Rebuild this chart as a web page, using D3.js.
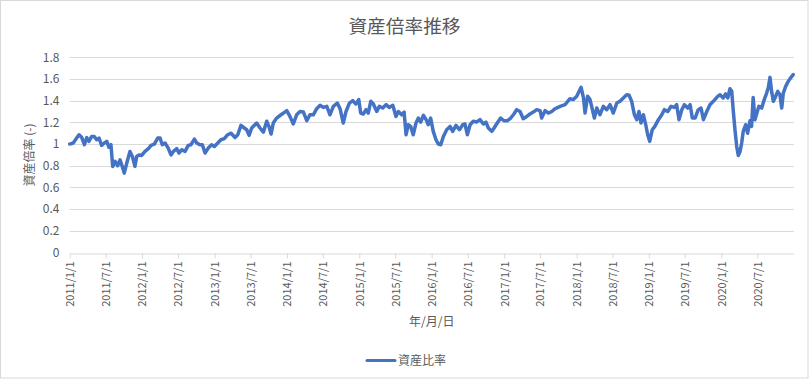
<!DOCTYPE html>
<html>
<head>
<meta charset="utf-8">
<script src="https://cdn.jsdelivr.net/npm/d3@7"></script>
<style>
  html, body { margin: 0; padding: 0; background: #fff; }
  svg { display: block; }
  text { font-family: "Noto Sans CJK JP", "Noto Sans", sans-serif; fill: #595959; }
</style>
</head>
<body>
<svg id="chart" width="809" height="380"></svg>
<script>
const title = "資産倍率推移";
const xTitle = "年/月/日";
const yTitle = "資産倍率 (-)";
const seriesName = "資産比率";
const startDate = "2011-01-01";

// days since 2011-01-01
const dayOffsets = [
0,18,35,47,61,74,86,97,111,124,
136,148,161,175,187,198,208,217,229,242,
254,265,275,288,304,316,329,338,350,363,
380,397,410,427,444,456,467,481,497,511,
523,540,551,565,582,598,612,629,641,657,
669,683,699,716,730,747,763,780,797,814,
834,848,864,881,893,905,918,943,960,977,
994,1005,1016,1027,1044,1066,1078,1095,1111,1128,
1145,1162,1179,1196,1212,
1229,1246,1263,1279,1297,1313,1330,1350,1364,1380,
1394,1411,1428,1444,1458,1468,1481,1495,1506,1519,
1532,1549,1562,1579,1596,1612,1630,1646,1658,1675,
1687,1697,1708,1720,1733,1747,1759,1771,1784,1798,
1809,1821,1834,1848,1860,1872,1885,1902,1919,1932,
1949,1966,1983,1994,2006,2020,2036,2053,2070,2087,
2100,2112,2129,2141,2157,2174,2191,2208,2225,2241,
2255,2272,2288,2306,2322,2339,2356,2373,2381,2398,
2415,2432,2449,
2474,2499,2524,2541,2558,2570,2580,2592,2600,2613,
2625,2637,2647,2659,2675,2692,2709,2726,2742,2760,
2776,2793,2810,2822,2835,2849,2861,2872,2882,2894,
2906,2916,2926,2939,2952,2970,2987,3000,3017,3034,
3050,3062,3074,3088,3101,3118,3130,3141,3155,3171,
3185,3197,3214,3230,3247,3269,3281,3297,3309,3320,
3331,3340,3348,3357,3365,3373,3382,3390,3398,3410,
3420,3432,3440,3448,3457,3469,3477,3491,3504,3516,
3524,3533,3541,3550,3558,3572,3583,3592,3600,3612,
3625,3639,3650
];

const values = [
1.00,1.01,1.055,1.086,1.06,0.994,1.06,1.025,1.07,1.07,
1.04,1.055,0.988,1.01,1.025,0.97,0.994,0.794,0.84,0.80,
0.855,0.794,0.732,0.825,0.932,0.886,0.794,0.886,0.90,0.895,
0.932,0.957,0.988,1.00,1.055,1.055,0.994,1.01,0.963,0.90,
0.932,0.957,0.917,0.948,0.932,0.988,0.994,1.046,1.01,0.994,
0.994,0.917,0.963,0.994,0.978,1.01,1.04,1.05,1.086,1.10,
1.06,1.086,1.172,1.148,1.132,1.08,1.148,1.194,1.148,1.11,
1.21,1.163,1.092,1.194,1.24,1.27,1.286,1.308,1.255,1.185,
1.27,1.30,1.295,1.215,1.27,
1.27,1.326,1.357,1.338,1.348,1.27,1.348,1.378,1.326,1.194,
1.30,1.378,1.40,1.37,1.41,1.286,1.277,1.317,1.286,1.394,
1.37,1.30,1.348,1.332,1.363,1.338,1.357,1.255,1.30,1.27,
1.295,1.086,1.178,1.163,1.086,1.194,1.24,1.203,1.265,1.225,
1.178,1.24,1.117,1.04,1.00,0.994,1.07,1.132,1.163,1.117,
1.172,1.132,1.178,1.185,1.086,1.178,1.21,1.203,1.225,1.185,
1.203,1.148,1.117,1.148,1.194,1.24,1.215,1.215,1.24,1.277,
1.317,1.30,1.234,1.255,1.277,1.295,1.317,1.308,1.24,1.308,
1.286,1.30,1.326,
1.348,1.363,1.418,1.41,1.44,1.486,1.523,1.425,1.286,1.44,
1.41,1.317,1.24,1.332,1.27,1.348,1.317,1.363,1.286,1.378,
1.394,1.425,1.455,1.45,1.394,1.27,1.225,1.30,1.194,1.27,
1.178,1.086,1.025,1.132,1.163,1.225,1.27,1.317,1.30,1.348,
1.338,1.363,1.225,1.317,1.363,1.332,1.363,1.24,1.24,1.317,
1.332,1.225,1.30,1.363,1.394,1.44,1.455,1.425,1.462,1.425,
1.51,1.486,1.30,1.117,0.978,0.895,0.932,1.01,1.117,1.178,
1.10,1.215,1.163,1.43,1.225,1.30,1.348,1.332,1.41,1.47,
1.517,1.615,1.486,1.394,1.425,1.486,1.455,1.332,1.47,1.532,
1.578,1.615,1.64
];

const yTicks = [0, 0.2, 0.4, 0.6, 0.8, 1, 1.2, 1.4, 1.6, 1.8];
const xDomain = ["2011-01-01", "2021-01-01"];

const parse = d3.timeParse("%Y-%m-%d");
const start = parse(startDate);
const n = Math.min(dayOffsets.length, values.length);
const data = d3.range(n).map(i => ({ date: d3.timeDay.offset(start, dayOffsets[i]), value: values[i] }));

const svg = d3.select("#chart");
const plotLeft = 69.7, plotRight = 793.8, plotTop = 57.3, plotBottom = 252.5;

svg.append("rect")
  .attr("x", 0.5).attr("y", 0.5).attr("width", 807.5).attr("height", 377.5)
  .attr("fill", "#fff").attr("stroke", "#d9d9d9");

const x = d3.scaleTime().domain(xDomain.map(parse)).range([plotLeft, plotRight]);
const y = d3.scaleLinear().domain([0, 1.8]).range([plotBottom, plotTop]);

// gridlines
svg.append("g").selectAll("line").data(yTicks.filter(t => t > 0)).join("line")
  .attr("x1", plotLeft).attr("x2", plotRight)
  .attr("y1", d => Math.round(y(d)) + 0.5).attr("y2", d => Math.round(y(d)) + 0.5)
  .attr("stroke", "#d9d9d9").attr("stroke-width", 1);

// y tick labels
svg.append("g").selectAll("text").data(yTicks).join("text")
  .attr("x", 59.5).attr("y", d => y(d))
  .attr("dy", "0.35em")
  .attr("text-anchor", "end")
  .style("font-size", "12px")
  .text(d => d3.format("")(d));

// x axis
const xTickVals = d3.timeMonth.every(6).range(parse("2011-01-01"), parse("2021-01-01"));
const xAxis = d3.axisBottom(x)
  .tickValues(xTickVals)
  .tickSizeInner(5).tickSizeOuter(0)
  .tickFormat(d3.timeFormat("%Y/%-m/%-d"));
const gx = svg.append("g").attr("transform", `translate(0,${Math.round(plotBottom) + 0.5})`).call(xAxis);
gx.select(".domain").attr("stroke", "#d9d9d9");
gx.selectAll(".tick line").attr("stroke", "#d9d9d9");
gx.selectAll(".tick text")
  .attr("transform", "rotate(-90)")
  .attr("x", -8).attr("y", 0).attr("dy", "0.35em")
  .attr("text-anchor", "end")
  .style("font-size", "11px")
  .style("font-family", "\"Noto Sans CJK JP\", sans-serif")
  .attr("fill", "#595959");

// line
const line = d3.line().x(d => x(d.date)).y(d => y(d.value));
svg.append("path").datum(data)
  .attr("d", line)
  .attr("fill", "none")
  .attr("stroke", "#4472C4")
  .attr("stroke-width", 3.5)
  .attr("stroke-linejoin", "round")
  .attr("stroke-linecap", "round");

// title
svg.append("text").attr("x", 404.5).attr("y", 33)
  .attr("text-anchor", "middle").style("font-size", "18.7px").text(title);

// axis titles
svg.append("text").attr("x", (plotLeft + plotRight) / 2).attr("y", 326)
  .attr("text-anchor", "middle").style("font-size", "12px").text(xTitle);
svg.append("text").attr("transform", `translate(34,155) rotate(-90)`)
  .attr("text-anchor", "middle").style("font-size", "12px").text(yTitle);

// legend
svg.append("line").attr("x1", 367).attr("x2", 395).attr("y1", 360.5).attr("y2", 360.5)
  .attr("stroke", "#4472C4").attr("stroke-width", 3).attr("stroke-linecap", "round");
svg.append("text").attr("x", 398).attr("y", 365)
  .style("font-size", "12px").text(seriesName);
</script>
</body>
</html>
